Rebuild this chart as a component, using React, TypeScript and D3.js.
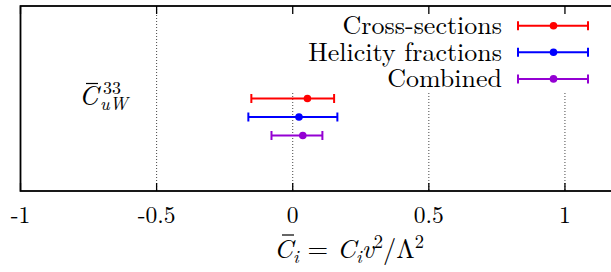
import React from 'react'
import * as d3 from 'd3'

// coefficient and measurements
const coefficientName = 'uW'
const coefficientIndex = '33'
const seriesNames = ['Cross-sections', 'Helicity fractions', 'Combined']
const seriesColors = ['#ff0000', '#0000ff', '#9400d3']
const centralValues = [0.054, 0.023, 0.037]
const lowerValues = [-0.152, -0.163, -0.078]
const upperValues = [0.152, 0.164, 0.109]
const rowOffsets = [0.1, 0, -0.1]
const coefficientY = 0.4
const labelY = 0.5
const xTicks = [-1, -0.5, 0, 0.5, 1]
const xTickLabels = ['-1', '-0.5', '0', '0.5', '1']

const W = 611
const H = 272
const font = { fontFamily: "'Latin Modern Roman', 'Liberation Serif', serif" }

export default function App() {
  const x = d3.scaleLinear().domain([-1, 1.25]).range([20.5, 633])
  const y = d3.scaleLinear().domain([0, 1]).range([191, 6])
  const top = y(1)
  const bottom = y(0)
  const cap = 4.5

  const ly = y(labelY)
  const lx = 79

  return (
    <svg width={W} height={H} style={{ position: 'absolute', left: 0, top: 0, background: '#fff' }}>
      {/* grid */}
      {xTicks.slice(1).map(t => (
        <line
          key={'g' + t}
          x1={x(t)}
          x2={x(t)}
          y1={top}
          y2={bottom}
          stroke="#444"
          strokeWidth={1}
          strokeDasharray="1,2"
        />
      ))}

      {/* legend background (opaque key) */}
      <rect x={220} y={top + 1} width={W - 220} height={85} fill="#fff" />

      {/* ticks */}
      {xTicks.map(t => (
        <g key={'t' + t}>
          <line x1={x(t)} x2={x(t)} y1={bottom} y2={bottom - 8} stroke="#000" strokeWidth={1.3} />
          <line x1={x(t)} x2={x(t)} y1={top} y2={top + 8} stroke="#000" strokeWidth={1.3} />
        </g>
      ))}

      {/* frame */}
      <rect
        x={x(-1)}
        y={top}
        width={x(1.25) - x(-1)}
        height={bottom - top}
        fill="none"
        stroke="#000"
        strokeWidth={1.8}
      />

      {/* tick labels */}
      {xTicks.map((t, i) => (
        <text key={'l' + t} x={x(t)} y={223} fontSize={23.5} textAnchor="middle" style={font}>
          {xTickLabels[i]}
        </text>
      ))}

      {/* y label */}
      <g style={font}>
        <text x={lx} y={ly + 6} fontSize={27} fontStyle="italic" style={font}>C</text>
        <line x1={lx + 7} x2={lx + 19} y1={ly - 15} y2={ly - 15} stroke="#000" strokeWidth={1.2} />
        <text x={lx + 24} y={ly - 5} fontSize={18} style={font}>{coefficientIndex}</text>
        <text x={lx + 21} y={ly + 11} fontSize={18} fontStyle="italic" style={font}>{coefficientName}</text>
      </g>

      {/* error bars */}
      {seriesNames.map((s, i) => {
        const yy = y(coefficientY + rowOffsets[i])
        const c = seriesColors[i]
        return (
          <g key={s}>
            <line x1={x(lowerValues[i])} x2={x(upperValues[i])} y1={yy} y2={yy} stroke={c} strokeWidth={2} />
            <line x1={x(lowerValues[i])} x2={x(lowerValues[i])} y1={yy - cap} y2={yy + cap} stroke={c} strokeWidth={2} />
            <line x1={x(upperValues[i])} x2={x(upperValues[i])} y1={yy - cap} y2={yy + cap} stroke={c} strokeWidth={2} />
            <circle cx={x(centralValues[i])} cy={yy} r={3.8} fill={c} />
          </g>
        )
      })}

      {/* legend */}
      {seriesNames.map((s, i) => {
        const yy = 25.7 + i * 26.6
        const c = seriesColors[i]
        return (
          <g key={'k' + s}>
            <text x={502} y={yy + 8.5} fontSize={26} textAnchor="end" style={font}>{s}</text>
            <line x1={518} x2={588} y1={yy} y2={yy} stroke={c} strokeWidth={2} />
            <line x1={518} x2={518} y1={yy - cap} y2={yy + cap} stroke={c} strokeWidth={2} />
            <line x1={588} x2={588} y1={yy - cap} y2={yy + cap} stroke={c} strokeWidth={2} />
            <circle cx={553.5} cy={yy} r={3.8} fill={c} />
          </g>
        )
      })}

      {/* x axis title */}
      <g>
        <text x={274} y={258} fontSize={26.5} style={font}>
          <tspan fontStyle="italic">C</tspan>
          <tspan fontSize={18.5} fontStyle="italic" dy={5}>i</tspan>
          <tspan dy={-5}> = </tspan>
          <tspan fontStyle="italic">C</tspan>
          <tspan fontSize={18.5} fontStyle="italic" dy={5}>i</tspan>
          <tspan fontStyle="italic" dy={-5}>v</tspan>
          <tspan fontSize={18.5} dy={-10}>2</tspan>
          <tspan dy={10}>/Λ</tspan>
          <tspan fontSize={18.5} dy={-10}>2</tspan>
        </text>
        <line x1={282} x2={294} y1={235} y2={235} stroke="#000" strokeWidth={1.2} />
      </g>
    </svg>
  )
}
